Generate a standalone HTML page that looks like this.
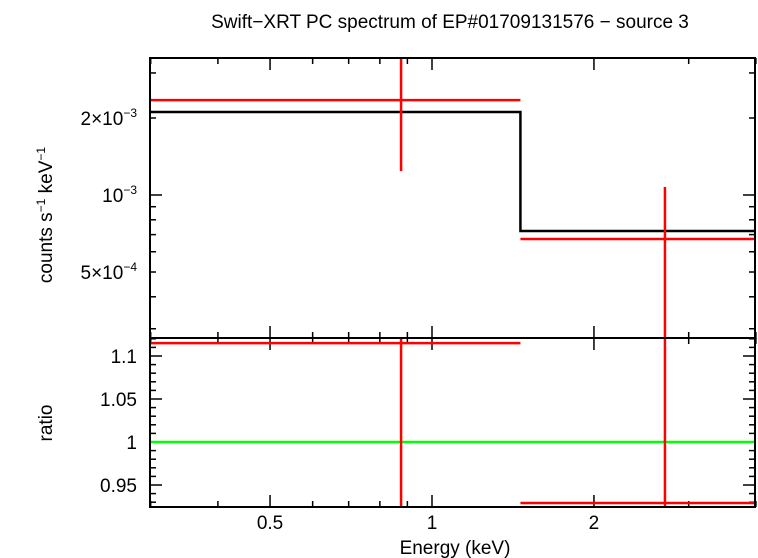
<!DOCTYPE html>
<html><head><meta charset="utf-8"><style>
body{margin:0;background:#fff;}
svg{display:block;font-family:"Liberation Sans",sans-serif;}
</style></head><body>
<svg id="c" width="758" height="558"></svg>
<script>
const binEdges=[0.3,1.46,4.0];
const dataE=[0.876,2.71];
const dataRate=[2.35e-3,6.73e-4];
const dataErr=[1.11e-3,4.02e-4];
const modelRate=[2.11e-3,7.23e-4];
const ratioVal=[1.115,0.929];
const ratioErr=[0.52,0.6];
const xTicks=[0.5,1,2];
const xTickLabels=["0.5","1","2"];
const yTicks=[2e-3,1e-3,5e-4];
const yTickLabels=["2×10","10","5×10"];
const yTickExp=["−3","−3","−4"];
const rTicks=[1.1,1.05,1,0.95];
const rTickLabels=["1.1","1.05","1","0.95"];

const NS="http://www.w3.org/2000/svg";
const svg=document.getElementById('c');
const L=150,R=755,T1=58,B1=338,B2=507;
const FS=19;
const X=e=>432+538*Math.log10(e);
const Y=v=>195-255.8*Math.log10(v/1e-3);
const YR=r=>442-(r-1)*860;
const cl=(v,a,b)=>Math.max(a,Math.min(b,v));
function el(tag,attrs,name,txt){const e=document.createElementNS(NS,tag);for(const k in attrs)e.setAttribute(k,attrs[k]);


if(txt!==undefined)e.textContent=txt;svg.appendChild(e);return e;}
function line(x1,y1,x2,y2,c,w,n){return el('line',{x1,y1,x2,y2,stroke:c,'stroke-width':w},n);}

el('text',{x:450,y:28,'font-size':FS,'text-anchor':'middle'},'chart-title','Swift−XRT PC spectrum of EP#01709131576 − source 3');
el('text',{x:455,y:554,'font-size':FS,'text-anchor':'middle'},'x-axis-title','Energy (keV)');
const yt=el('text',{x:0,y:0,'font-size':FS,'text-anchor':'middle',transform:'translate(52,215) rotate(-90)'},'y-axis-title','counts s');
yt.innerHTML='counts s<tspan font-size="12" dy="-7">−1</tspan><tspan dy="7"> keV</tspan><tspan font-size="12" dy="-7">−1</tspan>';
el('text',{x:0,y:0,'font-size':FS,'text-anchor':'middle',transform:'translate(52,423) rotate(-90)'},'ratio-axis-title','ratio');

for(const p of [[T1,B1],[B1,B2]]){
 for(let d=0.1;d<10;d*=10)for(let m=1;m<10;m++){const e=d*m;if(e<0.3||e>4)continue;const x=X(e);const maj=xTicks.includes(+e.toFixed(3));const len=maj?12:6;
  line(x,p[1],x,p[1]-len,'#000',1.5,'x-tick');line(x,p[0],x,p[0]+len,'#000',1.5,'x-tick');}
}
xTicks.forEach((t,i)=>el('text',{x:X(t),y:529,'font-size':FS,'text-anchor':'middle'},'x-tick-label',xTickLabels[i]));
for(let d=1e-4;d<1e-2;d*=10)for(let m=1;m<10;m++){const v=d*m;if(v<2.76e-4||v>3.43e-3)continue;const y=Y(v);const maj=(m===1);const len=maj?12:6;
 line(L,y,L+len,y,'#000',1.5,'y-tick');line(R,y,R-len,y,'#000',1.5,'y-tick');}
yTicks.forEach((t,i)=>{const e=el('text',{x:137,y:Y(t)+7,'font-size':FS,'text-anchor':'end'},'y-tick-label','');
 e.innerHTML=yTickLabels[i]+'<tspan font-size="12" dy="-8">'+yTickExp[i]+'</tspan>';});
for(let r=0.93;r<=1.12;r+=0.01){const y=YR(r);const maj=Math.abs(Math.round(r*100)%5)===0;const len=maj?12:6;
 line(L,y,L+len,y,'#000',1.5,'r-tick');line(R,y,R-len,y,'#000',1.5,'r-tick');}
rTicks.forEach((t,i)=>el('text',{x:137,y:YR(t)+7,'font-size':FS,'text-anchor':'end'},'ratio-tick-label',rTickLabels[i]));

let d='';modelRate.forEach((v,i)=>{d+=(i?'L':'M')+X(binEdges[i])+' '+Y(v)+'L'+X(binEdges[i+1])+' '+Y(v);});
el('path',{d,fill:'none',stroke:'#000','stroke-width':2.5},'model-line');
dataRate.forEach((v,i)=>{
 line(X(binEdges[i]),Y(v),X(binEdges[i+1]),Y(v),'#f00',2.5,'data-xerr');
 const lo=v-dataErr[i],hi=v+dataErr[i];
 line(X(dataE[i]),cl(Y(hi),T1,B1),X(dataE[i]),lo>0?cl(Y(lo),T1,B1):B1,'#f00',2.5,'data-yerr');
});
line(L,YR(1),R,YR(1),'#0f0',2.5,'ratio-unity-line');
ratioVal.forEach((v,i)=>{
 line(X(binEdges[i]),YR(v),X(binEdges[i+1]),YR(v),'#f00',2.5,'ratio-xerr');
 line(X(dataE[i]),cl(YR(v+ratioErr[i]),B1,B2),X(dataE[i]),cl(YR(v-ratioErr[i]),B1,B2),'#f00',2.5,'ratio-yerr');
});
el('rect',{x:L,y:T1,width:R-L,height:B1-T1,fill:'none',stroke:'#000','stroke-width':2},'top-panel-frame');
el('rect',{x:L,y:B1,width:R-L,height:B2-B1,fill:'none',stroke:'#000','stroke-width':2},'ratio-panel-frame');
</script>
</body></html>
